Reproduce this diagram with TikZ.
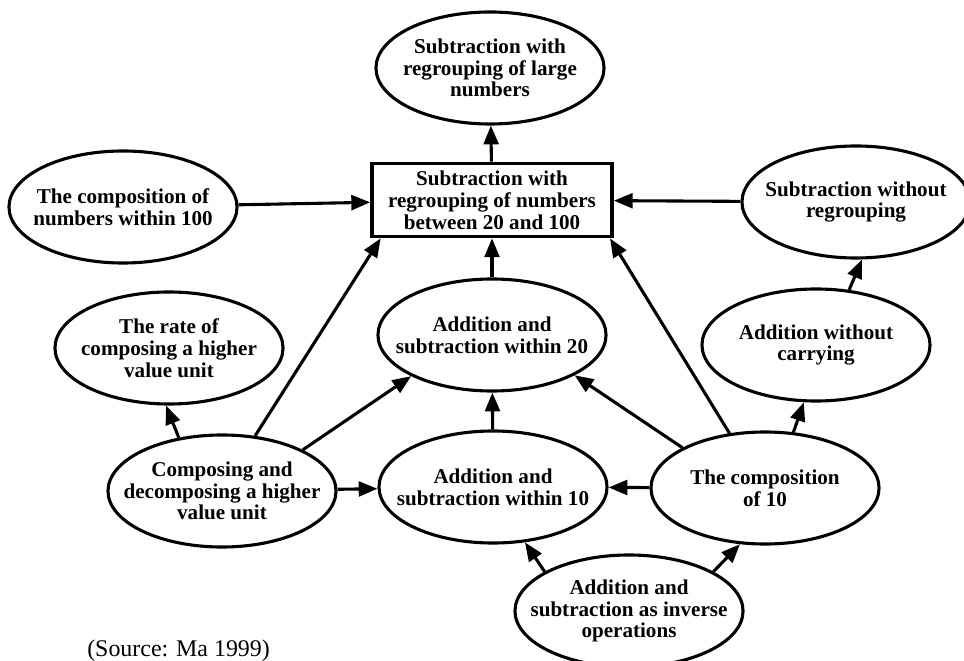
\documentclass[tikz,border=0pt]{standalone}
\usepackage{fontspec}
\setmainfont{Liberation Serif}
\usetikzlibrary{arrows.meta,shapes.geometric}

\begin{document}
\begin{tikzpicture}[x=0.025cm,y=-0.025cm,
    topic/.style={ellipse,draw,line width=2.2pt,minimum width=5.7cm,minimum height=2.8cm,
        inner xsep=-0.6cm,inner ysep=0pt,align=center,font=\bfseries\fontsize{15}{15.5}\selectfont},
    goal/.style={rectangle,draw,line width=2.6pt,minimum width=6cm,minimum height=1.825cm,
        inner sep=0pt,align=center,font=\bfseries\fontsize{15}{15.5}\selectfont},
    link/.style={-{Triangle[length=0.47cm,width=0.37cm]},line width=2.2pt}]
    \useasboundingbox (0,0) rectangle (964,661);

    % Goal box and what follows from it
    \node[goal] (target) at (492,200) {Subtraction with\\regrouping of numbers\\between 20 and 100};
    \node[topic] (large) at (490,68) {Subtraction with\\regrouping of large\\numbers};

    % Upper row
    \node[topic] (comp100) at (123,207) {The composition of\\numbers within 100};
    \node[topic] (noregroup) at (856,202) {Subtraction without\\regrouping};

    % Middle row
    \node[topic] (rate) at (169,348) {The rate of\\composing a higher\\value unit};
    \node[topic] (within20) at (492,335) {Addition and\\subtraction within 20};
    \node[topic] (nocarry) at (816,345) {Addition without\\carrying};

    % Lower row
    \node[topic] (compose) at (222,491) {Composing and\\decomposing a higher\\value unit};
    \node[topic] (within10) at (493,487) {Addition and\\subtraction within 10};
    \node[topic] (comp10) at (765,488) {The composition\\of 10};
    \node[topic] (inverse) at (629,611) {Addition and\\subtraction as inverse\\operations};

    % Source line
    \node[anchor=base west,inner sep=0pt,font=\fontsize{17}{17}\selectfont] (source) at (87,656) {(Source: Ma 1999)};

    % Arrows into the goal box
    \draw[link] (target) -- (large);
    \draw[link] (comp100) -- (target);
    \draw[link] (noregroup) -- (target);
    \draw[link] (within20) -- (target);
    \draw[link] (compose.59) -- (target.-161);
    \draw[link] (comp10.123) -- (target.-18);

    % Arrows from the lower row
    \draw[link] (compose.129) -- (rate.-93);
    \draw[link] (compose.27) -- (within20.-153);
    \draw[link] (compose) -- (within10);
    \draw[link] (within10) -- (within20);
    \draw[link] (comp10) -- (within10);
    \draw[link] (comp10.154) -- (within20.-26);
    \draw[link] (comp10.63) -- (nocarry.-102);
    \draw[link] (nocarry.59) -- (noregroup.-84);

    % Inverse operations
    \draw[link] (inverse.155) -- (within10.-60);
    \draw[link] (inverse.25) -- (comp10.-114);
\end{tikzpicture}
\end{document}
